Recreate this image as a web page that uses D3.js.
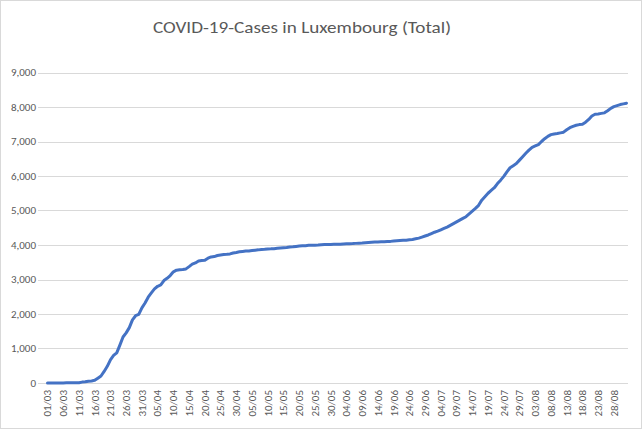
<!DOCTYPE html>
<html>
<head>
<meta charset="utf-8">
<script src="https://cdn.jsdelivr.net/npm/d3@7"></script>
<style>
  html, body { margin: 0; padding: 0; background: #fff; }
  svg { display: block; }
  text { font-family: Calibri, Carlito, "Open Sans", sans-serif; fill: #595959; }
</style>
</head>
<body>
<svg id="chart" width="643" height="446"></svg>
<script>
// ---- data ----
const title = "COVID-19-Cases in Luxembourg (Total)";
const startDate = "2020-03-01";
const march = [1,1,1,1,2,3,4,4,5,7,7,26,34,51,59,77,140,203,335,484,670,798,875,1099,1333,1453,1605,1831,1950,1988,2178];
const april = [2319,2487,2612,2729,2804,2843,2970,3034,3115,3223,3270,3281,3292,3307,3373,3444,3480,3537,3550,3558,3618,3654,3665,3695,3711,3723,3729,3741,3769,3784];
const may = [3802,3812,3824,3828,3840,3851,3859,3871,3877,3886,3888,3894,3904,3915,3923,3930,3945,3947,3958,3971,3980,3981,3990,3993,3995,4000,4008,4012,4016,4018,4019];
const june = [4020,4024,4032,4035,4039,4040,4047,4052,4055,4063,4072,4078,4085,4090,4093,4095,4102,4105,4113,4120,4128,4135,4140,4153,4160,4180,4200,4230,4260,4290];
const july = [4330,4370,4400,4440,4480,4520,4570,4620,4670,4720,4770,4820,4900,4980,5060,5150,5300,5400,5500,5580,5660,5780,5880,5990,6120,6240,6300,6360,6460,6560,6660];
const august = [6750,6830,6870,6910,7000,7080,7150,7200,7220,7230,7250,7270,7340,7400,7440,7470,7490,7500,7560,7640,7740,7790,7800,7815,7830,7890,7960,8010,8040,8070,8090];
const september = [8110];
const yTicks = [0,1000,2000,3000,4000,5000,6000,7000,8000,9000];
const labelEvery = 5;

// ---- build ----
const values = [].concat(march, april, may, june, july, august, september);
const fmtDay = d3.timeFormat("%d/%m");
const start = d3.timeParse("%Y-%m-%d")(startDate);
const categories = values.map((v, i) => fmtDay(d3.timeDay.offset(start, i)));
const data = categories.map((c, i) => ({ cat: c, value: values[i] }));

const svg = d3.select("#chart");

// chart border
svg.append("rect")
  .attr("x", 0.5).attr("y", 0.5)
  .attr("width", 641).attr("height", 428)
  .attr("fill", "#fff").attr("stroke", "#d9d9d9");

const x = d3.scalePoint().domain(categories).range([47.5, 626.5]);
const y = d3.scaleLinear().domain([0, 9000]).range([383, 72.5]);

// gridlines
svg.append("g")
  .selectAll("line")
  .data(yTicks)
  .join("line")
  .attr("x1", 38).attr("x2", 628)
  .attr("y1", d => Math.round(y(d)) + 0.5)
  .attr("y2", d => Math.round(y(d)) + 0.5)
  .attr("stroke", "#d9d9d9").attr("stroke-width", 1);

// y labels
const fmt = d3.format(",");
svg.append("g")
  .selectAll("text")
  .data(yTicks)
  .join("text")
  .attr("x", 36)
  .attr("y", d => y(d))
  .attr("dy", "0.35em")
  .attr("text-anchor", "end")
  .attr("font-size", 11)
  .text(d => fmt(d));

// x labels
svg.append("g")
  .selectAll("text")
  .data(categories.filter((c, i) => i % labelEvery === 0))
  .join("text")
  .attr("transform", d => `translate(${x(d)},390) rotate(-90)`)
  .attr("dy", "0.35em")
  .attr("text-anchor", "end")
  .attr("font-size", 11)
  .text(d => d);

// line
const line = d3.line().x(d => x(d.cat)).y(d => y(d.value)).curve(d3.curveLinear);
svg.append("path")
  .datum(data)
  .attr("d", line)
  .attr("fill", "none")
  .attr("stroke", "#4472c4")
  .attr("stroke-width", 3)
  .attr("stroke-linejoin", "round")
  .attr("stroke-linecap", "round");

// title
svg.append("text")
  .attr("x", 302).attr("y", 33)
  .attr("text-anchor", "middle")
  .attr("font-size", 16.5)
  .attr("textLength", 298)
  .attr("lengthAdjust", "spacingAndGlyphs")
  .text(title);
</script>
</body>
</html>
